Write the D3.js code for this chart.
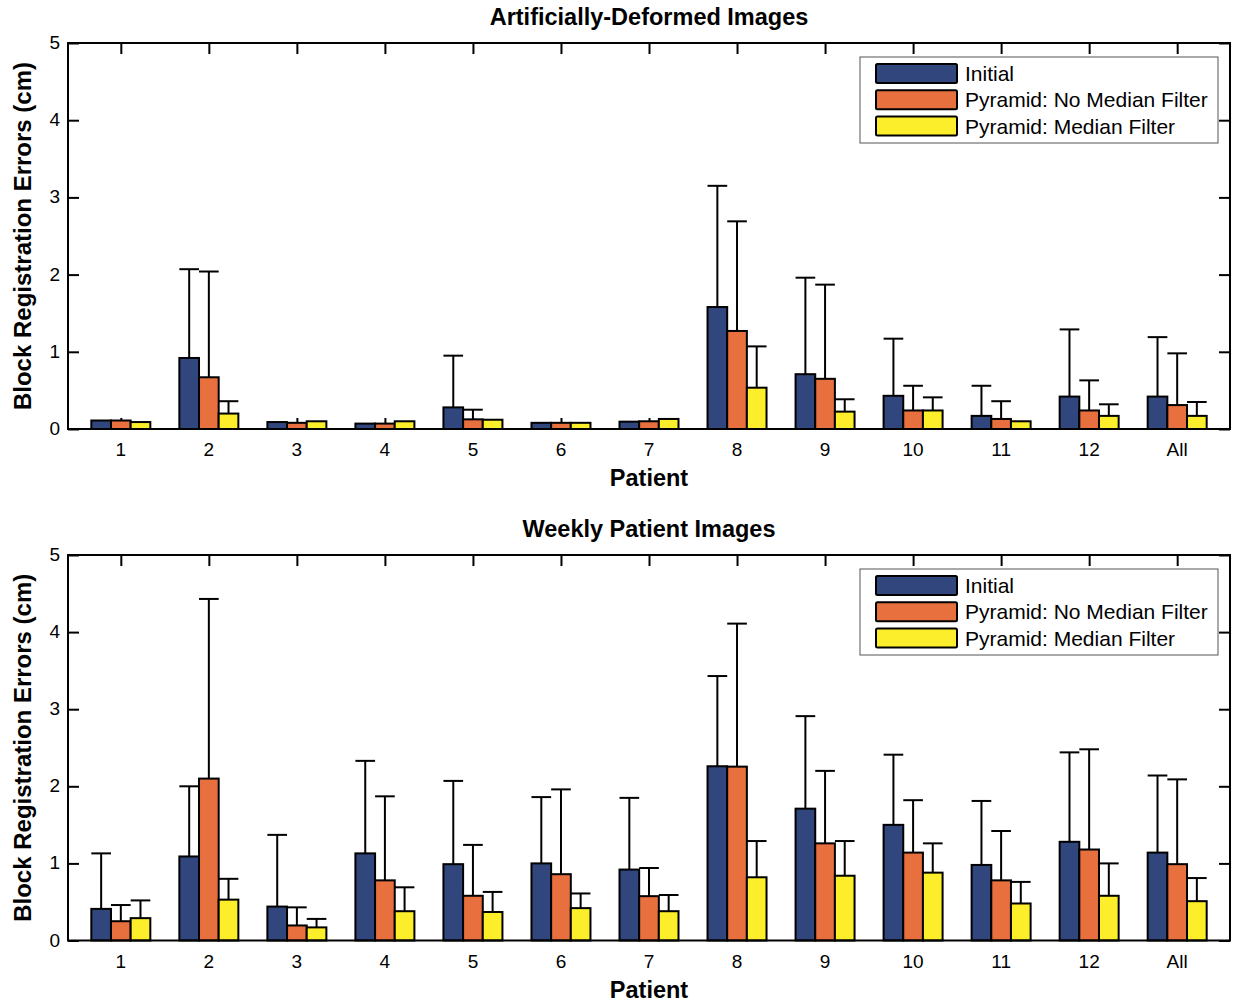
<!DOCTYPE html>
<html>
<head>
<meta charset="utf-8">
<script src="https://cdn.jsdelivr.net/npm/d3@7"></script>
<style>
  body { margin: 0; background: #fff; }
  text { font-family: "Liberation Sans", Arial, sans-serif; fill: #000; }
</style>
</head>
<body>
<div id="chart"></div>
<script>
// Patients and series
var patients = ["1", "2", "3", "4", "5", "6", "7", "8", "9", "10", "11", "12", "All"];
var seriesNames = ["Initial", "Pyramid: No Median Filter", "Pyramid: Median Filter"];
var seriesColors = ["#30467c", "#e8703f", "#fcee2a"];
var yTicks = [0, 1, 2, 3, 4, 5];

// Artificially-deformed images: bar heights and tops of the error bars (cm)
var deformedInitial = [0.11, 0.92, 0.09, 0.07, 0.28, 0.08, 0.095, 1.58, 0.71, 0.43, 0.17, 0.42, 0.42];
var deformedInitialTop = [0.11, 2.07, 0.09, 0.07, 0.95, 0.08, 0.095, 3.15, 1.96, 1.17, 0.56, 1.29, 1.19];
var deformedNoMedian = [0.11, 0.67, 0.08, 0.07, 0.125, 0.08, 0.10, 1.27, 0.65, 0.24, 0.13, 0.24, 0.31];
var deformedNoMedianTop = [0.11, 2.04, 0.08, 0.07, 0.25, 0.08, 0.10, 2.69, 1.87, 0.56, 0.36, 0.63, 0.98];
var deformedMedian = [0.09, 0.20, 0.10, 0.10, 0.12, 0.08, 0.13, 0.535, 0.225, 0.24, 0.10, 0.17, 0.17];
var deformedMedianTop = [0.09, 0.36, 0.10, 0.10, 0.12, 0.08, 0.13, 1.07, 0.385, 0.41, 0.10, 0.32, 0.35];

// Weekly patient images
var weeklyInitial = [0.41, 1.09, 0.44, 1.13, 0.99, 1.00, 0.92, 2.26, 1.71, 1.50, 0.98, 1.28, 1.14];
var weeklyInitialTop = [1.13, 2.00, 1.37, 2.33, 2.07, 1.86, 1.85, 3.43, 2.91, 2.41, 1.81, 2.44, 2.14];
var weeklyNoMedian = [0.25, 2.10, 0.195, 0.78, 0.58, 0.86, 0.575, 2.255, 1.26, 1.14, 0.78, 1.18, 0.99];
var weeklyNoMedianTop = [0.46, 4.43, 0.43, 1.87, 1.24, 1.96, 0.94, 4.11, 2.20, 1.82, 1.42, 2.48, 2.09];
var weeklyMedian = [0.29, 0.53, 0.17, 0.38, 0.37, 0.42, 0.38, 0.82, 0.84, 0.88, 0.48, 0.58, 0.51];
var weeklyMedianTop = [0.52, 0.80, 0.28, 0.69, 0.63, 0.61, 0.59, 1.29, 1.29, 1.26, 0.76, 1.00, 0.81];

var svgWidth = 1238;
var svgHeight = 1002;

var svg = d3.select("#chart")
  .append("svg")
  .attr("width", svgWidth)
  .attr("height", svgHeight);

var plotLeft = 68, plotRight = 1230;

function drawPanel(title, top, bottom, values, tops) {
  var g = svg.append("g");

  var x = d3.scaleLinear().domain([0.4, patients.length + 0.6]).range([plotLeft, plotRight]);
  var y = d3.scaleLinear().domain([0, 5]).range([bottom, top]);
  var inner = d3.scaleBand().domain(seriesNames).range([-29.5, 29.5]);
  var bw = inner.bandwidth();
  var idx = patients.map((p, i) => i + 1);

  // ticks (drawn under the bars)
  var tickLen = 11;
  var bottomAxis = d3.axisBottom(x).tickValues(idx).tickSize(-tickLen).tickFormat("").tickSizeOuter(0);
  var topAxis = d3.axisTop(x).tickValues(idx).tickSize(-tickLen).tickFormat("").tickSizeOuter(0);
  var leftAxis = d3.axisLeft(y).tickValues(yTicks).tickSize(-tickLen).tickFormat("").tickSizeOuter(0);
  var rightAxis = d3.axisRight(y).tickValues(yTicks).tickSize(-tickLen).tickFormat("").tickSizeOuter(0);

  [[bottomAxis, `translate(0,${bottom})`], [topAxis, `translate(0,${top})`],
   [leftAxis, `translate(${plotLeft},0)`], [rightAxis, `translate(${plotRight},0)`]].forEach(function (a) {
    var ax = g.append("g").attr("transform", a[1]).call(a[0]);
    ax.select(".domain").remove();
    ax.selectAll("line").attr("stroke", "#000").attr("stroke-width", 2);
  });

  // bars and error bars
  seriesNames.forEach(function (s, si) {
    var sg = g.append("g");
    var vals = values[si], ups = tops[si];
    idx.forEach(function (k, i) {
      var cx = x(k) + inner(s) + bw / 2;
      if (ups[i] > vals[i] + 0.005) {
        sg.append("line")
          .attr("x1", cx).attr("x2", cx)
          .attr("y1", y(vals[i])).attr("y2", y(ups[i]))
          .attr("stroke", "#000").attr("stroke-width", 2);
        sg.append("line")
          .attr("x1", cx - bw / 2).attr("x2", cx + bw / 2)
          .attr("y1", y(ups[i])).attr("y2", y(ups[i]))
          .attr("stroke", "#000").attr("stroke-width", 2);
      }
    });
    sg.selectAll("rect")
      .data(vals)
      .enter()
      .append("rect")
      .attr("x", (d, i) => x(idx[i]) + inner(s))
      .attr("y", d => y(d))
      .attr("width", bw)
      .attr("height", d => y(0) - y(d))
      .attr("fill", seriesColors[si])
      .attr("stroke", "#000")
      .attr("stroke-width", 2);
  });

  // frame
  g.append("rect")
    .attr("x", plotLeft).attr("y", top)
    .attr("width", plotRight - plotLeft).attr("height", bottom - top)
    .attr("fill", "none").attr("stroke", "#000").attr("stroke-width", 2);

  // tick labels
  g.selectAll(".xl")
    .data(patients)
    .enter()
    .append("text")
    .attr("x", (d, i) => x(i + 1))
    .attr("y", bottom + 27)
    .attr("text-anchor", "middle")
    .attr("font-size", 19)
    .text(d => d);

  g.selectAll(".yl")
    .data(yTicks)
    .enter()
    .append("text")
    .attr("x", plotLeft - 8)
    .attr("y", d => y(d) + 6)
    .attr("text-anchor", "end")
    .attr("font-size", 19)
    .text(d => d);

  // titles
  g.append("text")
    .attr("x", (plotLeft + plotRight) / 2)
    .attr("y", top - 18)
    .attr("text-anchor", "middle")
    .attr("font-size", 23.5)
    .attr("font-weight", "bold")
    .text(title);

  g.append("text")
    .attr("x", (plotLeft + plotRight) / 2)
    .attr("y", bottom + 57)
    .attr("text-anchor", "middle")
    .attr("font-size", 23.5)
    .attr("font-weight", "bold")
    .text("Patient");

  g.append("text")
    .attr("transform", `translate(31, ${(top + bottom) / 2}) rotate(-90)`)
    .attr("text-anchor", "middle")
    .attr("font-size", 24)
    .attr("font-weight", "bold")
    .text("Block Registration Errors (cm)");

  // legend
  var lg = g.append("g").attr("transform", `translate(860, ${top + 14})`);
  lg.append("rect")
    .attr("width", 358).attr("height", 86)
    .attr("fill", "#fff").attr("stroke", "#555").attr("stroke-width", 1);
  seriesNames.forEach(function (s, si) {
    lg.append("rect")
      .attr("x", 16).attr("y", 7 + si * 26.3)
      .attr("width", 81).attr("height", 19)
      .attr("rx", 1.5)
      .attr("fill", seriesColors[si])
      .attr("stroke", "#000").attr("stroke-width", 2);
    lg.append("text")
      .attr("x", 105).attr("y", 24 + si * 26.3)
      .attr("font-size", 21)
      .text(s);
  });
}

drawPanel("Artificially-Deformed Images", 43, 429,
  [deformedInitial, deformedNoMedian, deformedMedian],
  [deformedInitialTop, deformedNoMedianTop, deformedMedianTop]);

drawPanel("Weekly Patient Images", 555, 940.5,
  [weeklyInitial, weeklyNoMedian, weeklyMedian],
  [weeklyInitialTop, weeklyNoMedianTop, weeklyMedianTop]);
</script>
</body>
</html>
